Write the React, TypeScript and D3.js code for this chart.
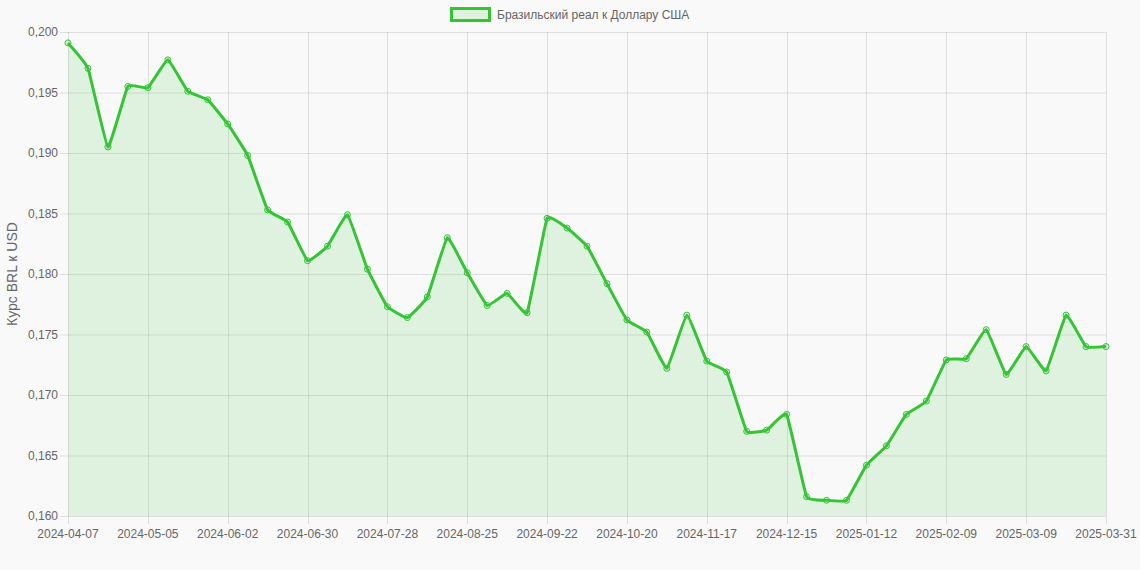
import React, { useEffect, useRef } from "react";
import * as d3 from "d3";

const startDate = "2024-04-07";
const lastLabel = "2025-03-31";
const values: number[] = [
  0.1991, 0.1970, 0.1905, 0.1955, 0.1954, 0.1977, 0.1951, 0.1944, 0.1924, 0.1898,
  0.1853, 0.1843, 0.1811, 0.1823, 0.1849, 0.1804, 0.1773, 0.1764, 0.1781, 0.1830,
  0.1801, 0.1774, 0.1784, 0.1768, 0.1846, 0.1838, 0.1823, 0.1792, 0.1762, 0.1752,
  0.1722, 0.1766, 0.1728, 0.1719, 0.1670, 0.1671, 0.1684, 0.1616, 0.1613, 0.1613,
  0.1642, 0.1658, 0.1684, 0.1695, 0.1729, 0.1730, 0.1754, 0.1717, 0.1740, 0.1720,
  0.1766, 0.1740, 0.1740,
];
const yTicks = [0.16, 0.165, 0.17, 0.175, 0.18, 0.185, 0.19, 0.195, 0.2];
const seriesName = "Бразильский реал к Доллару США";
const yTitle = "Курс BRL к USD";

const fmtDate = d3.timeFormat("%Y-%m-%d");
const parse = d3.timeParse("%Y-%m-%d");
const labels: string[] = values.map((_, i) => {
  if (i === values.length - 1) return lastLabel;
  const d = d3.timeDay.offset(parse(startDate) as Date, i * 7);
  return fmtDate(d);
});

const W = 1140;
const H = 570;
const LINE = "#33c633";
const FILL = "rgba(51,198,51,0.13)";
const FONT = "'Liberation Sans', Arial, Helvetica, sans-serif";

export default function App() {
  const ref = useRef<SVGSVGElement>(null);
  useEffect(() => {
    const svg = d3.select(ref.current);
    svg.selectAll("*").remove();
    const left = 68, right = 1106, top = 32, bottom = 516;
    const x = d3.scaleLinear().domain([0, values.length - 1]).range([left, right]);
    const y = d3.scaleLinear().domain([0.16, 0.2]).range([bottom, top]);

    svg.append("rect").attr("width", W).attr("height", H).attr("fill", "#f9f9f9");

    const grid = svg.append("g");
    yTicks.forEach((t) => {
      grid.append("line").attr("x1", left - 8).attr("x2", right)
        .attr("y1", y(t) + 0.5).attr("y2", y(t) + 0.5)
        .attr("stroke", "rgba(0,0,0,0.1)").attr("stroke-width", 1);
      svg.append("text").attr("x", left - 10).attr("y", y(t) + 4)
        .attr("text-anchor", "end").attr("font-family", FONT).attr("font-size", 12)
        .attr("fill", "#666").text(d3.format(".3f")(t).replace(".", ","));
    });
    const tickIdx = labels.map((_, i) => i).filter((i) => i % 4 === 0 || i === labels.length - 1);
    tickIdx.forEach((i) => {
      grid.append("line").attr("x1", Math.round(x(i)) + 0.5).attr("x2", Math.round(x(i)) + 0.5)
        .attr("y1", top).attr("y2", bottom + 8)
        .attr("stroke", "rgba(0,0,0,0.1)").attr("stroke-width", 1);
      svg.append("text").attr("x", x(i)).attr("y", bottom + 22)
        .attr("text-anchor", "middle").attr("font-family", FONT).attr("font-size", 12)
        .attr("fill", "#666").text(labels[i]);
    });

    const curve = d3.curveCardinal.tension(0.7);
    const area = d3.area<number>().x((_, i) => x(i)).y0(bottom).y1((d) => y(d)).curve(curve);
    svg.append("path").datum(values).attr("d", area).attr("fill", FILL);
    const line = d3.line<number>().x((_, i) => x(i)).y((d) => y(d)).curve(curve);
    svg.append("path").datum(values).attr("d", line).attr("fill", "none")
      .attr("stroke", LINE).attr("stroke-width", 3).attr("stroke-linejoin", "round");
    svg.append("g").selectAll("circle").data(values).join("circle")
      .attr("cx", (_, i) => x(i)).attr("cy", (d) => y(d)).attr("r", 3)
      .attr("fill", FILL).attr("stroke", LINE).attr("stroke-width", 1);

    svg.append("text").attr("transform", `translate(17,${(top + bottom) / 2}) rotate(-90)`)
      .attr("text-anchor", "middle").attr("font-family", FONT).attr("font-size", 14)
      .attr("fill", "#666").text(yTitle);

    svg.append("rect").attr("x", 451.5).attr("y", 8.5).attr("width", 38).attr("height", 12)
      .attr("fill", FILL).attr("stroke", LINE).attr("stroke-width", 3);
    svg.append("text").attr("x", 497).attr("y", 19).attr("font-family", FONT).attr("font-size", 12)
      .attr("fill", "#666").text(seriesName);
  }, []);
  return (
    <svg ref={ref} width={W} height={H}
      style={{ position: "absolute", left: 0, top: 0, display: "block" }} />
  );
}
